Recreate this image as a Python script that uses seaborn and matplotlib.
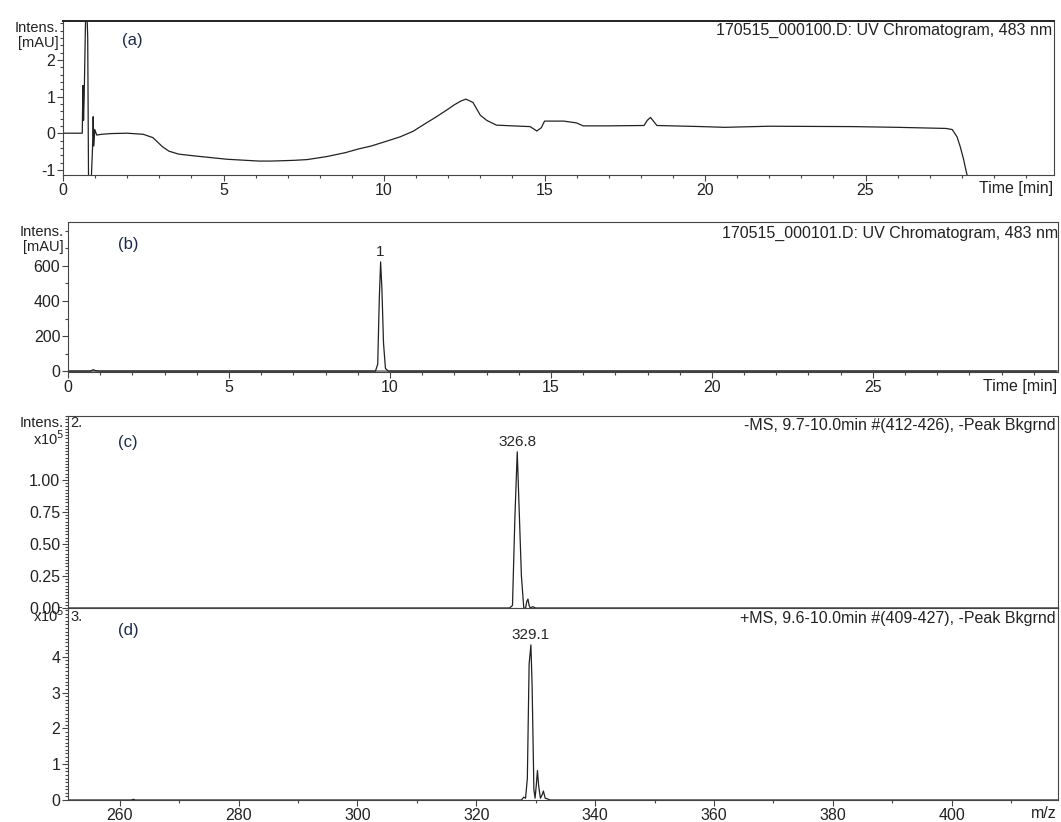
import matplotlib
matplotlib.use("Agg")
import matplotlib.pyplot as plt
from matplotlib.ticker import MultipleLocator, FixedLocator
import seaborn as sns
import numpy as np

sns.set_style("ticks")
plt.rcParams['font.family'] = ['Liberation Sans', 'DejaVu Sans']
plt.rcParams['axes.unicode_minus'] = False

# (a) UV chromatogram of the blank, 483 nm
a_time = [0, 0.3, 0.6, 0.62, 0.64, 0.66, 0.72, 0.77, 0.8, 0.87, 0.92, 0.94, 0.96, 0.99,
          1.05, 1.2, 1.5, 2.0, 2.5, 2.8, 3.1, 3.3, 3.6, 4.1, 5.1, 6.1, 6.5, 7.2, 7.6,
          8.2, 8.8, 9.2, 9.6, 10.0, 10.5, 10.9, 11.3, 11.6, 11.95, 12.2, 12.4, 12.55,
          12.77, 13.0, 13.2, 13.5, 14.0, 14.55, 14.76, 14.9, 15.0, 15.6, 16.0, 16.2,
          17.0, 18.1, 18.2, 18.3, 18.4, 18.5, 19.9, 20.6, 22.0, 24.6, 26.0, 27.5, 27.7,
          27.85, 27.95, 28.05, 28.15, 28.3]
a_int = [0, 0, 0, 1.3, 0.35, 1.0, 4.0, 2.6, -2.0, -1.5, -0.4, 0.45, -0.35, 0.1,
         -0.05, -0.03, -0.01, 0.0, -0.03, -0.12, -0.37, -0.49, -0.57, -0.62, -0.71,
         -0.76, -0.76, -0.74, -0.72, -0.64, -0.53, -0.43, -0.35, -0.24, -0.1, 0.05,
         0.27, 0.43, 0.63, 0.78, 0.88, 0.93, 0.84, 0.49, 0.35, 0.22, 0.2, 0.18, 0.06,
         0.15, 0.33, 0.33, 0.28, 0.2, 0.2, 0.21, 0.35, 0.43, 0.32, 0.21, 0.18, 0.16,
         0.19, 0.18, 0.16, 0.13, 0.1, -0.1, -0.37, -0.7, -1.1, -1.5]

# (b) UV chromatogram of the sample, 483 nm
b_time = [0, 0.7, 0.78, 0.85, 0.95, 5.0, 9.55, 9.62, 9.67, 9.71, 9.75, 9.8, 9.86, 9.95, 30.7]
b_int = [0, 0, 8, 3, 0, 0, 0, 40, 420, 623, 470, 160, 15, 0, 0]

# (c) -MS spectrum, x10^5
c_mz = [251.3, 325.6, 326.1, 326.5, 326.9, 327.2, 327.6, 328.0, 328.3, 328.5,
        328.7, 328.9, 329.1, 329.5, 330.0, 417.9]
c_int = [0, 0, 0.02, 0.7, 1.22, 0.8, 0.25, 0.0, 0.0, 0.05, 0.07, 0.02, 0.0, 0.01, 0, 0]

# (d) +MS spectrum, x10^5
d_mz = [251.3, 262.0, 262.3, 262.6, 263.0, 327.6, 328.0, 328.3, 328.6, 328.9, 329.2,
        329.4, 329.7, 329.9, 330.1, 330.3, 330.5, 330.8, 331.1, 331.3, 331.6, 332.0,
        332.4, 417.9]
d_int = [0, 0, 0.02, 0, 0, 0, 0.08, 0.05, 0.6, 3.8, 4.33, 3.2, 0.3, 0.05, 0.4, 0.82,
         0.4, 0.05, 0.15, 0.25, 0.05, 0.03, 0, 0]

W, H = 1061, 822
fig = plt.figure(figsize=(W / 100, H / 100), dpi=100)


def rect(l, r, t, b):
    return [l / W, 1 - b / H, (r - l) / W, (b - t) / H]


def px(x, y):
    return x / W, 1 - y / H


def style(ax):
    for s in ax.spines.values():
        s.set_linewidth(0.8)
        s.set_color('#444444')
    ax.tick_params(which='both', direction='out', color='#444444', width=0.8,
                   labelsize=11.5, pad=1.5, labelcolor='#222222')
    ax.tick_params(which='major', length=4)
    ax.tick_params(which='minor', length=2.5)


line_kw = dict(color='#222222', linewidth=0.9, estimator=None)

ax_a = fig.add_axes(rect(63, 1054, 21, 175))
ax_b = fig.add_axes(rect(68, 1058, 222, 372.5))
ax_c = fig.add_axes(rect(68, 1058, 416, 608))
ax_d = fig.add_axes(rect(68, 1058, 608, 800), sharex=ax_c)

# (a)
sns.lineplot(x=a_time, y=a_int, ax=ax_a, **line_kw)
ax_a.set_xlim(0, 30.87)
ax_a.set_ylim(-1.14, 3.06)
ax_a.yaxis.set_major_locator(FixedLocator([-1, 0, 1, 2]))
ax_a.yaxis.set_minor_locator(MultipleLocator(0.2))
ax_a.xaxis.set_major_locator(FixedLocator([0, 5, 10, 15, 20, 25]))
ax_a.xaxis.set_minor_locator(MultipleLocator(1))

# (b)
sns.lineplot(x=b_time, y=b_int, ax=ax_b, **line_kw)
ax_b.set_xlim(0, 30.75)
ax_b.set_ylim(-8, 851)
ax_b.yaxis.set_major_locator(FixedLocator([0, 200, 400, 600]))
ax_b.yaxis.set_minor_locator(MultipleLocator(100))
ax_b.xaxis.set_major_locator(FixedLocator([0, 5, 10, 15, 20, 25]))
ax_b.xaxis.set_minor_locator(MultipleLocator(1))
ax_b.axhline(0, color='#888888', linewidth=2, zorder=1)
ib = int(np.argmax(b_int))
ax_b.annotate('1', (b_time[ib], b_int[ib]), xytext=(0, 2), textcoords='offset points',
              ha='center', va='bottom', fontsize=11)

# (c)
sns.lineplot(x=c_mz, y=c_int, ax=ax_c, **line_kw)
ax_c.set_ylim(0, 1.5)
ax_c.yaxis.set_major_locator(FixedLocator([0, 0.25, 0.5, 0.75, 1.0]))
ax_c.yaxis.set_major_formatter(plt.FuncFormatter(lambda v, p: f"{v:.2f}"))
ax_c.yaxis.set_minor_locator(MultipleLocator(0.025))
ic = int(np.argmax(c_int))
ax_c.annotate('326.8', (c_mz[ic], c_int[ic]), xytext=(0, 2), textcoords='offset points',
              ha='center', va='bottom', fontsize=11)

# (d)
sns.lineplot(x=d_mz, y=d_int, ax=ax_d, **line_kw)
ax_d.set_xlim(251.3, 417.9)
ax_d.set_ylim(0, 5.36)
ax_d.yaxis.set_major_locator(FixedLocator([0, 1, 2, 3, 4]))
ax_d.yaxis.set_minor_locator(MultipleLocator(0.1))
ax_d.xaxis.set_major_locator(FixedLocator([260, 280, 300, 320, 340, 360, 380, 400]))
ax_d.xaxis.set_minor_locator(MultipleLocator(10))
idd = int(np.argmax(d_int))
ax_d.annotate('329.1', (d_mz[idd], d_int[idd]), xytext=(0, 2), textcoords='offset points',
              ha='center', va='bottom', fontsize=11)

for ax in (ax_a, ax_b, ax_c, ax_d):
    style(ax)
    ax.set_xlabel('')
    ax.set_ylabel('')
ax_c.tick_params(axis='x', which='both', length=0, labelbottom=False)
ax_a.spines['top'].set_linewidth(1.4)
ax_a.spines['top'].set_color('#222222')

# headers and axis captions
hdr = dict(ha='right', va='center', fontsize=11.5, color='#222222')
fig.text(*px(1052, 30), '170515_000100.D: UV Chromatogram, 483 nm', **hdr)
fig.text(*px(1058, 233), '170515_000101.D: UV Chromatogram, 483 nm', **hdr)
fig.text(*px(1056, 425), '-MS, 9.7-10.0min #(412-426), -Peak Bkgrnd', **hdr)
fig.text(*px(1056, 618), '+MS, 9.6-10.0min #(409-427), -Peak Bkgrnd', **hdr)

fig.text(*px(1053, 188), 'Time [min]', **hdr)
fig.text(*px(1057, 386), 'Time [min]', **hdr)
fig.text(*px(1057, 813), 'm/z', **hdr)

cap = dict(ha='right', va='center', fontsize=10.5, color='#222222')
fig.text(*px(59, 28), 'Intens.', **cap)
fig.text(*px(59, 43), '[mAU]', **cap)
fig.text(*px(64, 232), 'Intens.', **cap)
fig.text(*px(64, 247), '[mAU]', **cap)
fig.text(*px(64, 423), 'Intens.', **cap)
fig.text(*px(64, 439), 'x10$^5$', **cap)
fig.text(*px(64, 616), 'x10$^5$', **cap)
fig.text(*px(70, 423), '2.', ha='left', va='center', fontsize=10.5, color='#222222')
fig.text(*px(70, 617), '3.', ha='left', va='center', fontsize=10.5, color='#222222')

lab = dict(ha='center', va='center', fontsize=12, color='#1c2a4a')
fig.text(*px(132, 40), '(a)', **lab)
fig.text(*px(128, 245), '(b)', **lab)
fig.text(*px(128, 443), '(c)', **lab)
fig.text(*px(128, 630), '(d)', **lab)

fig.savefig('out.png', dpi=100)
